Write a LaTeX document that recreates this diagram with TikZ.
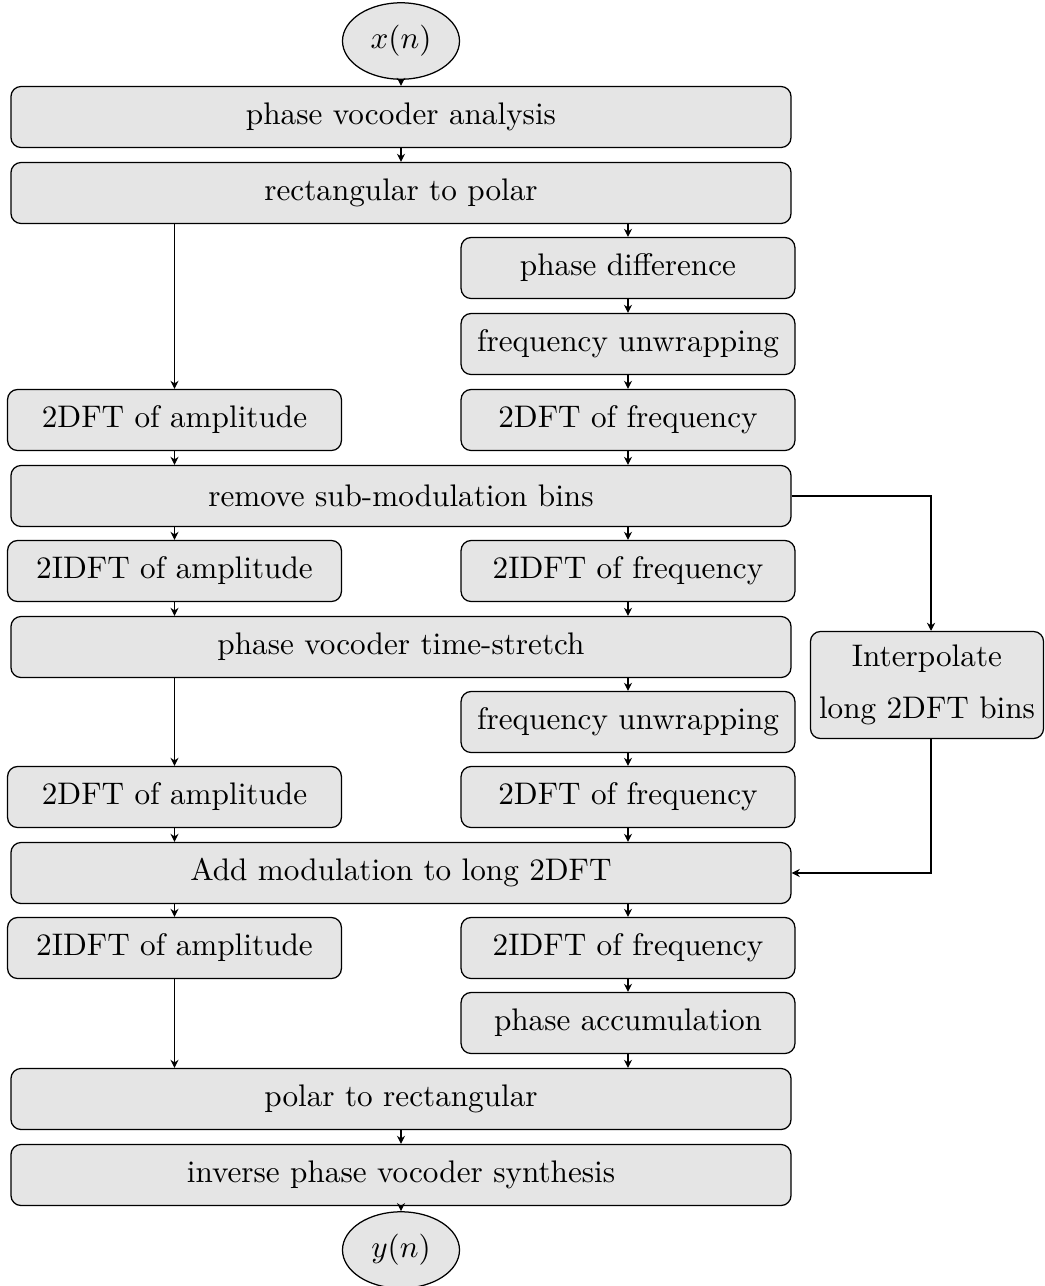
\documentclass[tikz,border=0pt]{standalone}
\usepackage{tikz}
\usetikzlibrary{arrows.meta,shapes.geometric}

\tikzset{
  block/.style={draw, fill=black!10, rounded corners=3.2pt, align=center, minimum height=19.55pt, inner sep=2pt},
  wideblock/.style={block, minimum width=250pt},
  halfblock/.style={block, minimum width=107pt},
  signal/.style={draw, fill=black!10, ellipse, minimum width=37.5pt, minimum height=24.5pt, inner sep=1pt},
  flow/.style={-{Stealth[length=2.6pt,width=2.6pt]}}
}

\begin{document}
\begin{tikzpicture}[x=0.3205pt, y=-0.3205pt]
		%%%%% START %%%%%
		\useasboundingbox (0, 0) rectangle (1044, 1286);

		\node[signal] (xin) at (401, 41) {$x(n)$};
		\node[wideblock] (pva) at (401, 117) {phase vocoder analysis};
		\node[wideblock] (rtop) at (401, 193) {rectangular to polar};

		\node[halfblock] (pdiff) at (628, 268) {phase difference};
		\node[halfblock] (funw) at (628, 344) {frequency unwrapping};
		\node[halfblock] (dftamp) at (174.5, 420) {2DFT of amplitude};
		\node[halfblock] (dftfreq) at (628, 420) {2DFT of frequency};

		\node[wideblock] (rmsub) at (401, 496) {remove sub-modulation bins};
		\node[halfblock] (idftamp) at (174.5, 571) {2IDFT of amplitude};
		\node[halfblock] (idftfreq) at (628, 571) {2IDFT of frequency};

		\node[wideblock] (pvts) at (401, 647) {phase vocoder time-stretch};
		\node[halfblock] (funwb) at (628, 722) {frequency unwrapping};
		\node[halfblock] (dftampb) at (174.5, 797) {2DFT of amplitude};
		\node[halfblock] (dftfreqb) at (628, 797) {2DFT of frequency};

		\node[wideblock] (addmod) at (401, 873) {Add modulation to long 2DFT};
		\node[halfblock] (idftampb) at (174.5, 948) {2IDFT of amplitude};
		\node[halfblock] (idftfreqb) at (628, 948) {2IDFT of frequency};
		\node[halfblock] (pacc) at (628, 1023) {phase accumulation};

		\node[wideblock] (ptor) at (401, 1099) {polar to rectangular};
		\node[wideblock] (ipvs) at (401, 1175) {inverse phase vocoder synthesis};
		\node[signal] (yout) at (401, 1250) {$y(n)$};

		\node[block, minimum width=74.7pt, minimum height=34.3pt] (interp) at (927, 685) {Interpolate\\[4.7pt]long 2DFT bins};

		% main chain
		\draw[flow] (xin) -- (pva);
		\draw[flow] (pva) -- (rtop);
		\draw[flow] (pdiff.north |- rtop.south) -- (pdiff);
		\draw[flow] (dftamp.north |- rtop.south) -- (dftamp);
		\draw[flow] (pdiff) -- (funw);
		\draw[flow] (funw) -- (dftfreq);
		\draw[flow] (dftamp) -- (dftamp.south |- rmsub.north);
		\draw[flow] (dftfreq) -- (dftfreq.south |- rmsub.north);

		\draw[flow] (idftamp.north |- rmsub.south) -- (idftamp);
		\draw[flow] (idftfreq.north |- rmsub.south) -- (idftfreq);
		\draw[flow] (idftamp) -- (idftamp.south |- pvts.north);
		\draw[flow] (idftfreq) -- (idftfreq.south |- pvts.north);

		\draw[flow] (funwb.north |- pvts.south) -- (funwb);
		\draw[flow] (dftampb.north |- pvts.south) -- (dftampb);
		\draw[flow] (funwb) -- (dftfreqb);
		\draw[flow] (dftampb) -- (dftampb.south |- addmod.north);
		\draw[flow] (dftfreqb) -- (dftfreqb.south |- addmod.north);

		\draw[flow] (idftampb.north |- addmod.south) -- (idftampb);
		\draw[flow] (idftfreqb.north |- addmod.south) -- (idftfreqb);
		\draw[flow] (idftfreqb) -- (pacc);
		\draw[flow] (idftampb) -- (idftampb.south |- ptor.north);
		\draw[flow] (pacc) -- (pacc.south |- ptor.north);

		\draw[flow] (ptor) -- (ipvs);
		\draw[flow] (ipvs) -- (yout);

		% side branch
		\draw[flow] (rmsub.east) -| ([xshift=1.3pt]interp.north);
		\draw[flow] ([xshift=1.3pt]interp.south) |- (addmod.east);
		%%%%% END %%%%%
\end{tikzpicture}
\end{document}
